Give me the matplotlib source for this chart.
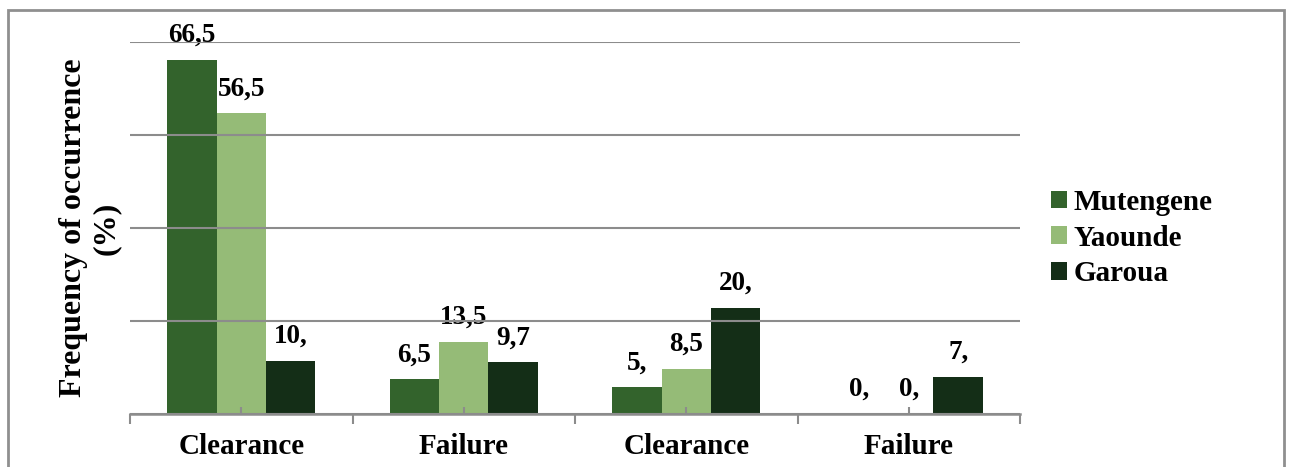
import numpy as np
import matplotlib
matplotlib.use("Agg")
import matplotlib.pyplot as plt
from matplotlib.patches import Rectangle

# Data
categories = ["Clearance", "Failure", "Clearance", "Failure"]
series_names = ["Mutengene", "Yaounde", "Garoua"]
mutengene = [66.5, 6.5, 5.0, 0.0]
yaounde = [56.5, 13.5, 8.5, 0.0]
garoua = [10.0, 9.7, 20.0, 7.0]
colors = ["#33632C", "#95BB77", "#142E17"]


def fmt(v):
    if float(v).is_integer():
        return f"{int(v)},"
    return f"{v:g}".replace(".", ",")


plt.rcParams["font.family"] = ["Liberation Serif", "DejaVu Serif"]
plt.rcParams["font.weight"] = "bold"

fig = plt.figure(figsize=(12.89, 4.67), dpi=100)
ax = fig.add_axes([130 / 1289, 1 - 414 / 467, 890 / 1289, (414 - 41.5) / 467])

x = np.arange(len(categories))
width = 0.222
series = [mutengene, yaounde, garoua]
for i, (name, vals, c) in enumerate(zip(series_names, series, colors)):
    pos = x + (i - 1) * width
    ax.bar(pos, vals, width, color=c, label=name, zorder=2)
    for px, v in zip(pos, vals):
        ax.annotate(fmt(v), (px, v), xytext=(0, 13), textcoords="offset points",
                    ha="center", va="baseline", fontsize=19.5, fontweight="bold",
                    color="black", zorder=1)

ax.set_xlim(-0.5, len(categories) - 0.5)
ax.set_ylim(0, 70)
ax.set_yticks([0, 17.5, 35, 52.5, 70])
ax.yaxis.grid(True, color="#8C8C8C", linewidth=1.5, zorder=3)
ax.set_axisbelow(False)
ax.tick_params(axis="y", left=False, labelleft=False)

ax.set_xticks(x)
ax.set_xticklabels(categories, fontsize=21, fontweight="bold")
ax.set_xticks(np.arange(-0.5, len(categories)), minor=True)
ax.tick_params(axis="x", which="major", direction="in", length=5, width=1.5,
               color="#8C8C8C", pad=14)
ax.tick_params(axis="x", which="minor", direction="out", length=7, width=1.5,
               color="#8C8C8C")

for s in ["left", "right", "top"]:
    ax.spines[s].set_visible(False)
ax.spines["bottom"].set_color("#8C8C8C")
ax.spines["bottom"].set_linewidth(1.8)
ax.spines["bottom"].set_zorder(4)

fig.text(90 / 1289, 1 - 228 / 467, "Frequency of occurrence\n(%)", rotation=90,
         ha="center", va="center", multialignment="center", fontsize=23,
         fontweight="bold", linespacing=1.15)

handles, labels = ax.get_legend_handles_labels()
fig.legend(handles, labels, loc="center left", bbox_to_anchor=(1036 / 1289, 1 - 238 / 467),
           frameon=False, prop={"size": 21, "weight": "bold"}, handlelength=0.55,
           handleheight=0.55, handletextpad=0.25, labelspacing=0.3, borderpad=0)

fig.add_artist(Rectangle((8 / 1289, -0.1), (1284 - 8) / 1289, 1.1 - 10 / 467,
                         transform=fig.transFigure, fill=False, edgecolor="#8F8F8F",
                         linewidth=2))

fig.savefig("out.png", dpi=100)
